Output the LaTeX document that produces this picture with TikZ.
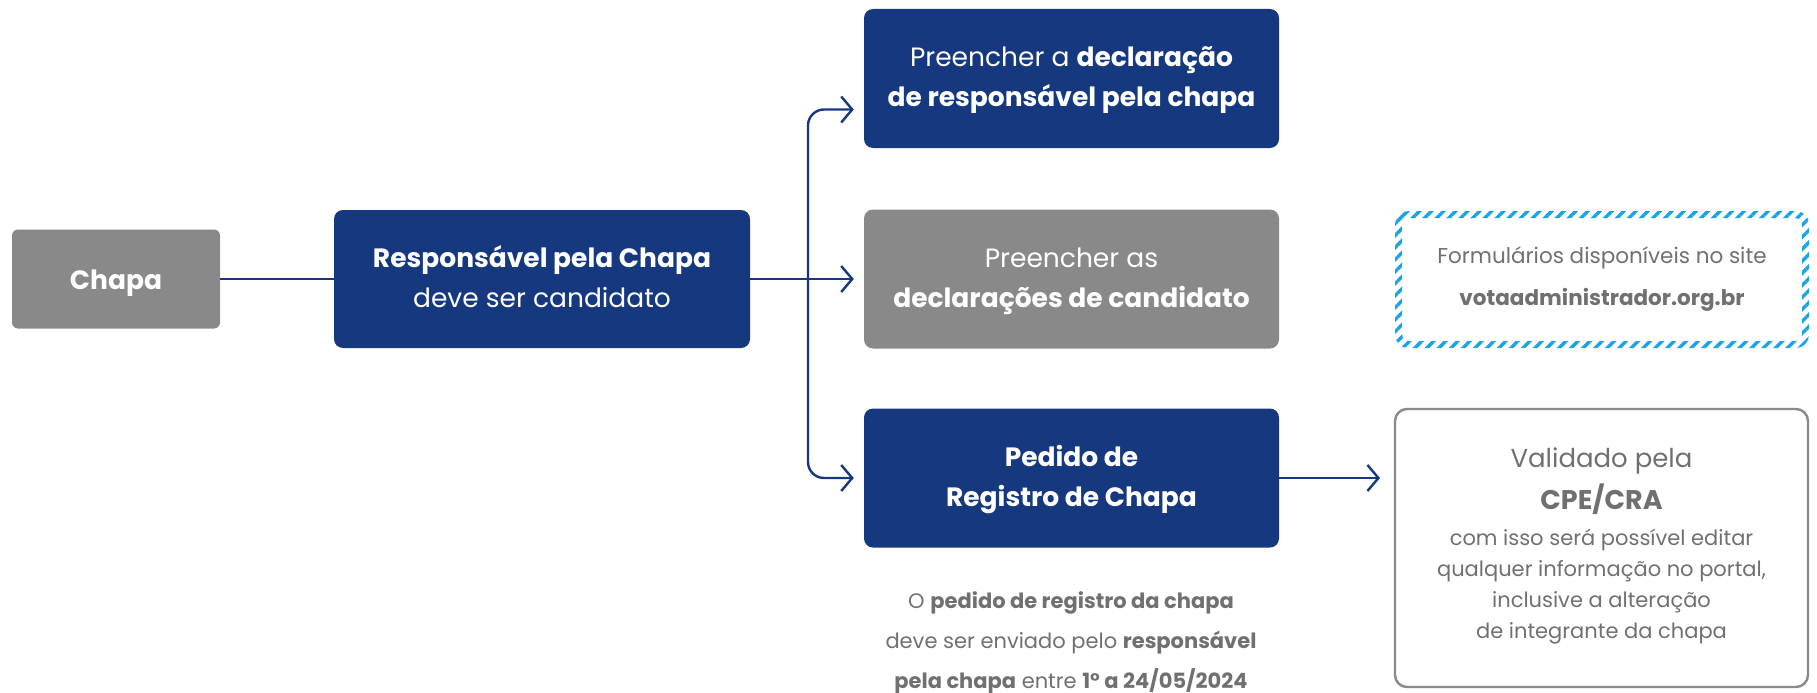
\documentclass[tikz,border=0pt]{standalone}
\usepackage{fontspec}
\setmainfont{Poppins}
\usetikzlibrary{arrows.meta, patterns.meta}

\definecolor{navy}{HTML}{15387F}
\definecolor{boxgray}{HTML}{898989}
\definecolor{txtgray}{HTML}{707070}
\definecolor{hatch}{HTML}{1BA3E6}

\tikzset{
  card/.style={rounded corners=9pt, minimum width=415pt, minimum height=139pt, align=center, text=white,
    text height=60pt, text depth=4pt, font=\fontsize{26.5}{40}\selectfont},
  bluecard/.style={card, fill=navy},
  graycard/.style={card, fill=boxgray},
  link/.style={draw=navy, line width=2.4pt, -{Straight Barb[length=11pt, width=26pt, line width=2.4pt]}},
}

\begin{document}
\begin{tikzpicture}[x=1pt, y=-1pt]
            \useasboundingbox (0,0) rectangle (1817,693);

            \node[graycard, minimum width=208pt, minimum height=99pt, rounded corners=6pt, text height=24pt] (chapa) at (116,279) {\textbf{Chapa}};
            \node[bluecard, minimum width=416pt, minimum height=138pt] (resp) at (542,279) {\textbf{Responsável pela Chapa}\\ deve ser candidato};
            \node[bluecard] (decl) at (1071.5,78.5) {Preencher a \textbf{declaração}\\ \textbf{de responsável pela chapa}};
            \node[graycard] (cand) at (1071.5,279) {Preencher as\\ \textbf{declarações de candidato}};
            \node[bluecard] (pedido) at (1071.5,478) {\textbf{Pedido de}\\ \textbf{Registro de Chapa}};

            % caixa tracejada com o site
            \fill[pattern={Lines[angle=45, distance=8.5pt, line width=3.4pt]}, pattern color=hatch, even odd rule, rounded corners=13pt]
                (1395,211) rectangle (1809,348) [rounded corners=7pt] (1402,218) rectangle (1802,341);
            \node[align=center, text=txtgray, font=\fontsize{21.5}{42}\selectfont] (site) at (1602,279)
                {Formulários disponíveis no site\\ \textbf{votaadministrador.org.br}};

            \draw[draw=boxgray, line width=2.4pt, rounded corners=12pt] (1395,409) rectangle (1808,687);
            \node[align=center, text=txtgray, font=\fontsize{21}{31}\selectfont] (valid) at (1601.5,546)
                {{\fontsize{26}{31}\selectfont Validado pela}\\[9pt]
                 {\fontsize{27}{31}\selectfont\textbf{CPE/CRA}}\\[5pt]
                 com isso será possível editar\\ qualquer informação no portal,\\ inclusive a alteração\\ de integrante da chapa};

            \node[align=center, text=txtgray, font=\fontsize{21}{40}\selectfont] (nota) at (1071,643)
                {O \textbf{pedido de registro da chapa}\\ deve ser enviado pelo \textbf{responsável}\\ \textbf{pela chapa} entre \textbf{1° a 24/05/2024}};

            \coordinate (split) at (808,279);
            \draw[draw=navy, line width=2pt] (chapa.east) -- (resp.west);
            \draw[link, shorten >=10pt] (resp.east) -- (cand.west);
            \draw[link, rounded corners=16pt, shorten >=10pt] (split) |- ([yshift=-31pt]decl.west);
            \draw[link, rounded corners=16pt, shorten >=10pt] (split) |- (pedido.west);
            \draw[link, shorten >=14pt] (pedido.east) -- (1394,478);
        \end{tikzpicture}
\end{document}
